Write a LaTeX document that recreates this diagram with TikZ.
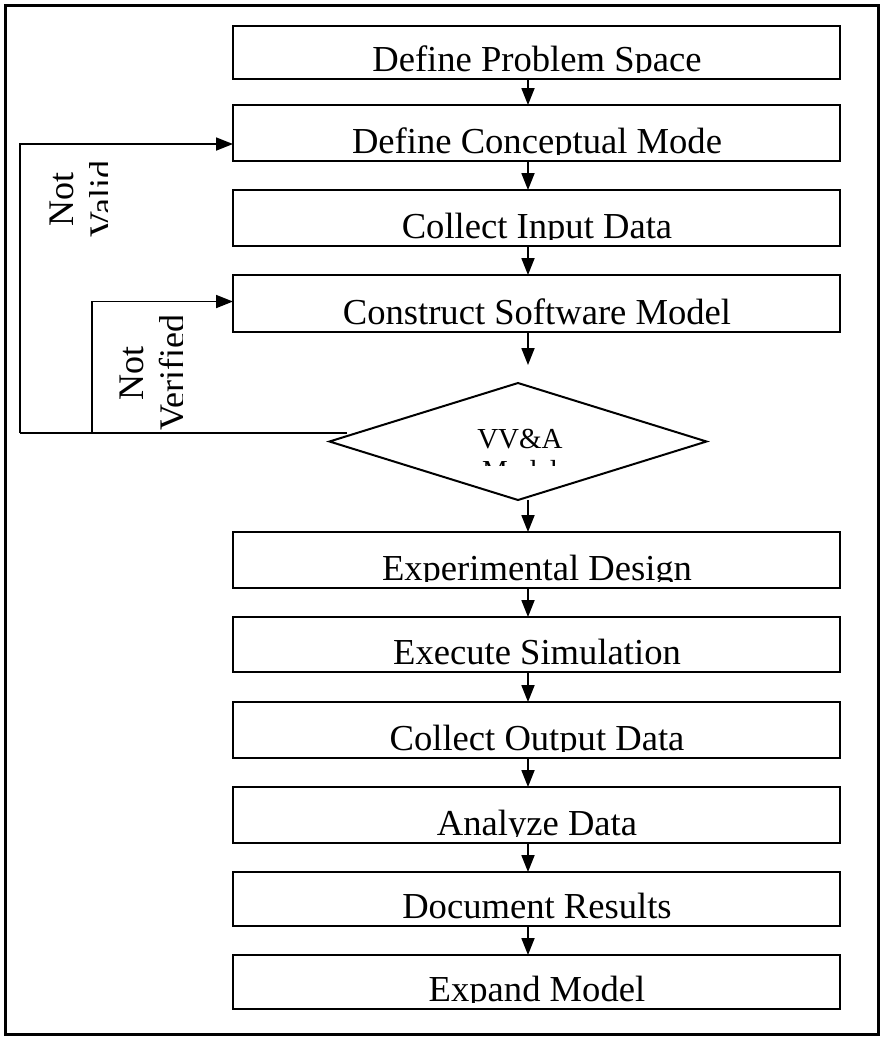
\documentclass[tikz,border=0pt]{standalone}
\usepackage{fontspec}
\setmainfont{Liberation Serif}
\usetikzlibrary{shapes.geometric,arrows.meta}

\tikzset{
  boxframe/.style={draw, line width=1pt, minimum width=303.5pt, inner sep=0pt, outer sep=0pt},
  boxlabel/.style={font=\fontsize{18.3}{21}\selectfont, inner sep=0pt, anchor=base},
  flow/.style={draw, line width=0.9pt, -{Triangle[length=8.5pt,width=6.5pt]}},
  looplabel/.style={font=\fontsize{18}{20.5}\selectfont, align=center, rotate=90, inner sep=0pt, anchor=north},
  decisionlabel/.style={font=\fontsize{14.5}{16}\selectfont, align=center, inner sep=0pt, anchor=north},
}

% one process box: name, top, bottom, caption (caption is cut at the box floor)
\newcommand\flowstep[4]{%
  \node[boxframe, minimum height={(#3-#2)*0.5pt}] (#1) at (536.5,{(#2+#3)/2}) {};
  \begin{scope}
    \clip (234,#2) rectangle (839,{#3-7});
    \node[boxlabel] (#1-text) at (537,{#3-8}) {#4};
  \end{scope}}

\begin{document}
\begin{tikzpicture}[x=0.5pt, y=-0.5pt]
  \useasboundingbox (0,0) rectangle (883,1041);
  \draw[line width=1.5pt] (5,5) rectangle (878,1034);

  \coordinate (spine) at (528,0);

  \flowstep{s1}{26}{79}{Define Problem Space}
  \flowstep{s2}{105}{161}{Define Conceptual Mode}
  \flowstep{s3}{190}{246}{Collect Input Data}
  \flowstep{s4}{275}{332}{Construct Software Model}

  \node[draw, shape=diamond, line width=1pt, minimum width=188.5pt,
        minimum height=58.5pt, inner sep=0pt, outer sep=0pt] (dia) at (518,441.5) {};
  \begin{scope}
    \clip (330,383) rectangle (707,465);
    \node[decisionlabel] (dia-text) at (520,429) {VV\&A\\Model};
  \end{scope}

  \flowstep{s5}{532}{588}{Experimental Design}
  \flowstep{s6}{617}{672}{Execute Simulation}
  \flowstep{s7}{702}{758}{Collect Output Data}
  \flowstep{s8}{787}{843}{Analyze Data}
  \flowstep{s9}{872}{926}{Document Results}
  \flowstep{s10}{955}{1009}{Expand Model}

  % forward chain
  \draw[flow] (s1.south -| spine) -- (s2.north -| spine);
  \draw[flow] (s2.south -| spine) -- (s3.north -| spine);
  \draw[flow] (s3.south -| spine) -- (s4.north -| spine);
  \draw[flow, shorten >=9pt] (s4.south -| spine) -- (dia.north -| spine);
  \draw[flow] (dia.south -| spine) -- (s5.north -| spine);
  \draw[flow] (s5.south -| spine) -- (s6.north -| spine);
  \draw[flow] (s6.south -| spine) -- (s7.north -| spine);
  \draw[flow] (s7.south -| spine) -- (s8.north -| spine);
  \draw[flow] (s8.south -| spine) -- (s9.north -| spine);
  \draw[flow] (s9.south -| spine) -- (s10.north -| spine);

  % feedback loops
  \coordinate (vstart) at (347,433);
  \coordinate (loopA) at (20,433);
  \coordinate (loopB) at (92,433);
  \draw[line width=0.9pt] (vstart) -- (loopA);
  \draw[flow] (loopA) |- ([yshift=-5.5pt]s2.west);
  \draw[flow] (loopB) |- ([yshift=1pt]s4.west);

  \begin{scope}
    \clip (30,140) rectangle (107,270);
    \node[looplabel] (nv) at (50,199) {Not\\Valid};
  \end{scope}
  \begin{scope}
    \clip (105,300) rectangle (182,440);
    \node[looplabel] (nf) at (120,373) {Not\\Verified};
  \end{scope}
\end{tikzpicture}
\end{document}
